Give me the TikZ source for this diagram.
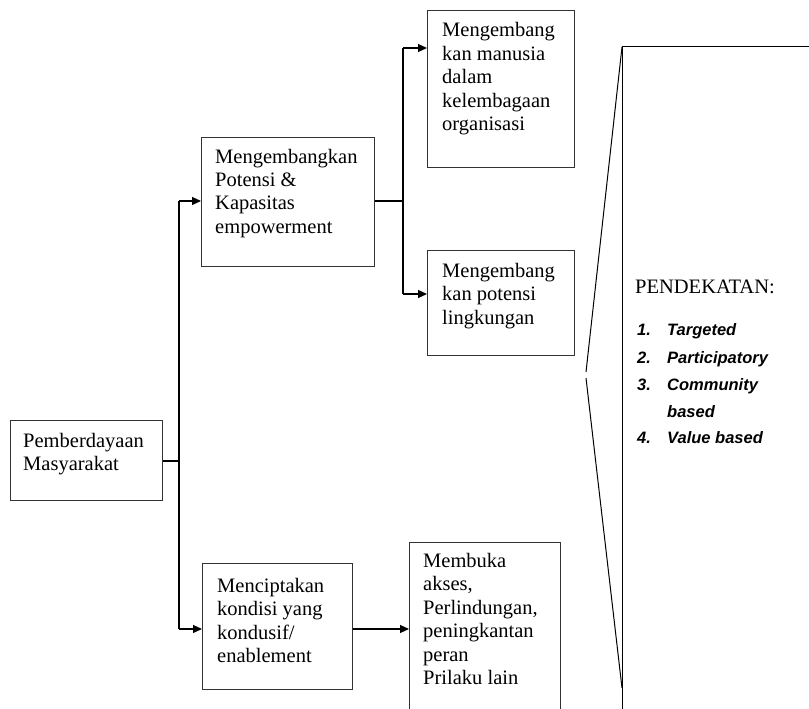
\documentclass[tikz,border=0pt]{standalone}
\usepackage{fontspec}
\setmainfont{Liberation Serif}
\newfontfamily\listfont{Liberation Sans}
\usetikzlibrary{arrows.meta,calc}
\tikzset{
  box/.style={draw=black!80, line width=1.4pt, rectangle, inner sep=0pt, anchor=north west},
  txt/.style={anchor=base west, inner sep=0pt, font=\fontsize{20.5}{23.5}\selectfont},
  conn/.style={draw=black, line width=1.2pt},
  arr/.style={conn, -{Triangle[length=9pt,width=8pt]}},
  thin/.style={draw=black, line width=1pt},
  li/.style={anchor=base west, inner sep=0pt, font=\listfont\bfseries\itshape\fontsize{16.5}{19}\selectfont}
}
\newcommand{\boxtext}[1]{\parbox[t]{170pt}{\raggedright\fontsize{20.5}{23.5}\selectfont #1}}
\begin{document}
\begin{tikzpicture}[x=1pt,y=-1pt]
\useasboundingbox (0,0) rectangle (809,709);
\clip (0,0) rectangle (809,709);
\fill[white] (0,0) rectangle (809,709);
% boxes
\node[box, minimum width=152pt, minimum height=80pt] (p) at (10,420) {};
\node[box, minimum width=173pt, minimum height=129pt] (b1) at (201,137) {};
\node[box, minimum width=147pt, minimum height=157pt] (t) at (427,10) {};
\node[box, minimum width=147pt, minimum height=105pt] (l) at (427,250) {};
\node[box, minimum width=150pt, minimum height=126pt] (c) at (202,563) {};
\node[box, minimum width=151pt, minimum height=190pt] (m) at (409,542) {};
% texts
\node[txt] (pt) at (23,447) {\boxtext{Pemberdayaan\\Masyarakat}};
\node[txt] (b1t) at (215,163) {\boxtext{Mengembangkan\\Potensi \&\\Kapasitas\\empowerment}};
\node[txt] (tt) at (442,37) {\boxtext{Mengembang\\kan manusia\\dalam\\kelembagaan\\organisasi}};
\node[txt] (lt) at (442,277) {\boxtext{Mengembang\\kan potensi\\lingkungan}};
\node[txt] (ct) at (217,592) {\boxtext{Menciptakan\\kondisi yang\\kondusif/\\enablement}};
\node[txt] (mt) at (423,567) {\boxtext{Membuka\\akses,\\Perlindungan,\\peningkantan\\peran\\Prilaku lain}};
% connectors
\coordinate (j1) at (179,461);
\coordinate (j1t) at (179,201);
\coordinate (j1b) at (179,629);
\draw[conn] (p.east |- j1) -- (j1);
\draw[conn] (j1t) -- (j1b);
\draw[arr] (j1t) -- (b1.west |- j1t);
\draw[arr] (j1b) -- (c.west |- j1b);
\coordinate (j2) at (403,201);
\coordinate (j2t) at (403,48);
\coordinate (j2b) at (403,294);
\draw[conn] (b1.east |- j2) -- (j2);
\draw[conn] (j2t) -- (j2b);
\draw[arr] (j2t) -- (t.west |- j2t);
\draw[arr] (j2b) -- (l.west |- j2b);
\coordinate (j3) at (352,629);
\draw[arr] (c.east |- j3) -- (m.west |- j3);
% right panel
\coordinate (r0) at (622,47);
\coordinate (r1) at (809,47);
\coordinate (r2) at (622,720);
\coordinate (s1) at (586,372);
\coordinate (s2) at (586,378);
\coordinate (s3) at (622,688);
\draw[thin] (r1) -- (r0) -- (r2);
\draw[thin] (r0) -- (s1);
\draw[thin] (s2) -- (s3);
\node[anchor=base west, inner sep=0pt, font=\fontsize{20.5}{23.5}\selectfont] (pd) at (635,293) {PENDEKATAN:};
\node[li] (n1) at (637,335) {1.};
\node[li] (i1) at (667,335) {Targeted};
\node[li] (n2) at (637,363) {2.};
\node[li] (i2) at (667,363) {Participatory};
\node[li] (n3) at (637,390) {3.};
\node[li] (i3) at (667,390) {Community};
\node[li] (i3b) at (667,417) {based};
\node[li] (n4) at (637,443) {4.};
\node[li] (i4) at (667,443) {Value based};
\end{tikzpicture}
\end{document}
